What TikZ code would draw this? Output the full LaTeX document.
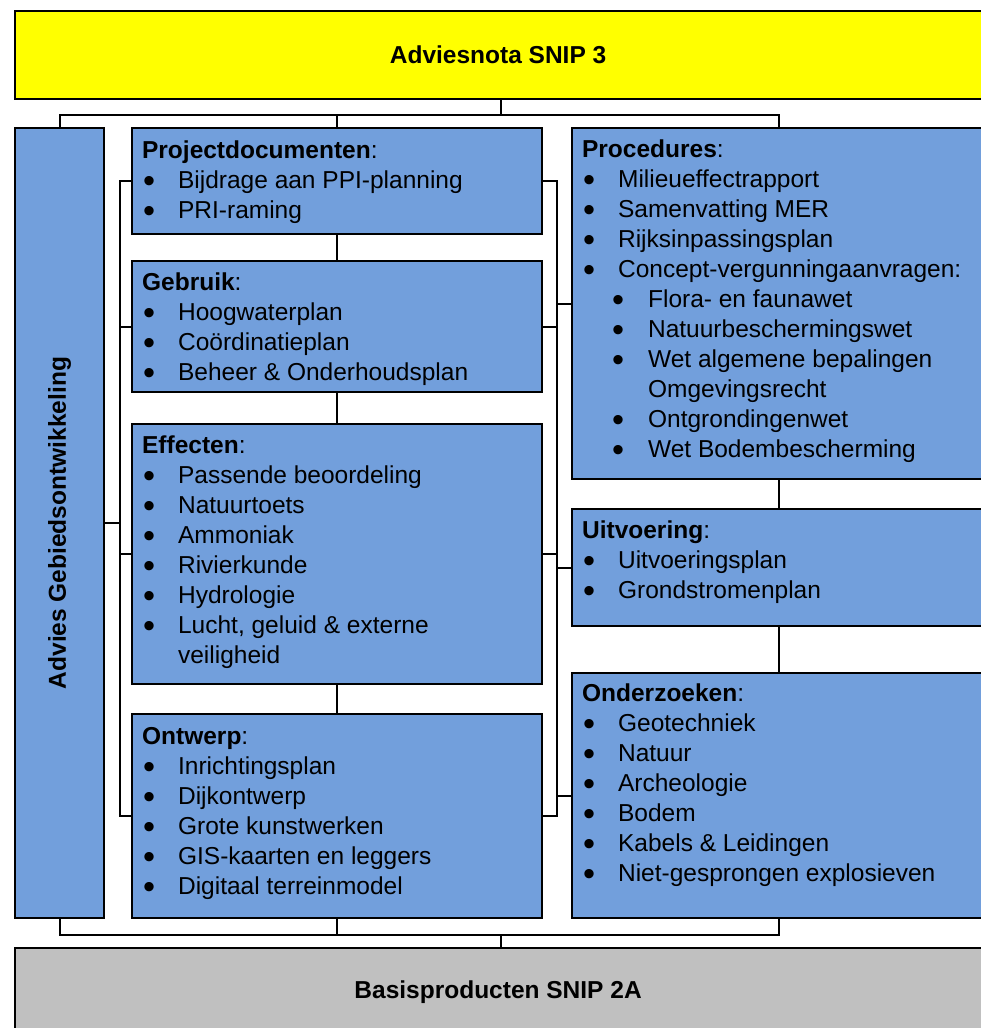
\documentclass[tikz,border=0pt]{standalone}
\usepackage{fontspec}
\setmainfont{Liberation Sans}
\usepackage{graphicx}
\definecolor{geel}{RGB}{255,255,0}
\definecolor{blokblauw}{RGB}{114,159,220}
\definecolor{grijs}{RGB}{192,192,192}
\newcommand{\bol}{\raisebox{-4.2pt}[0pt][0pt]{\scalebox{1.4}{\textbullet}}}
\newcommand{\punt}{\makebox[36pt][l]{\hspace*{1pt}\bol}}
\newcommand{\subpunt}{\hspace*{30pt}\makebox[36pt][l]{\bol}}
\tikzset{
  blok/.style={draw,line width=2.2pt,anchor=north west,inner sep=0pt,font=\fontsize{24.5}{30}\selectfont},
  lijst/.style={blok,fill=blokblauw,inner xsep=10pt},
  verbinding/.style={line width=1.8pt}
}
\begin{document}
\begin{tikzpicture}[x=1pt,y=-1pt]
\useasboundingbox (0,0) rectangle (980,1028);
\node[blok,fill=geel,minimum width=972,minimum height=88] (advies) at (14,10) {\hspace*{-6pt}\textbf{Adviesnota SNIP 3}};
\node[blok,fill=grijs,minimum width=972,minimum height=88] (basis) at (14,947) {\hspace*{-6pt}\textbf{Basisproducten SNIP 2A}};
\node[blok,fill=blokblauw,minimum width=89,minimum height=790] (links) at (14,127) {\rotatebox{90}{\textbf{Advies Gebiedsontwikkeling}}};
\node[lijst] (proj) at (131,127) {\parbox[t][106pt][t]{390pt}{\vspace*{9pt}\strut\textbf{Projectdocumenten}:\\
  \punt Bijdrage aan PPI-planning\\ \punt PRI-raming}};
\node[lijst] (gebruik) at (131,260) {\parbox[t][131pt][t]{390pt}{\vspace*{8pt}\strut\textbf{Gebruik}:\\
  \punt Hoogwaterplan\\ \punt Coördinatieplan\\ \punt Beheer \& Onderhoudsplan}};
\node[lijst] (effecten) at (131,423) {\parbox[t][260pt][t]{390pt}{\vspace*{8pt}\strut\textbf{Effecten}:\\
  \punt Passende beoordeling\\ \punt Natuurtoets\\ \punt Ammoniak\\ \punt Rivierkunde\\ \punt Hydrologie\\
  \punt Lucht, geluid \& externe\\ \hspace*{36pt}veiligheid}};
\node[lijst] (ontwerp) at (131,713) {\parbox[t][204pt][t]{390pt}{\vspace*{9pt}\strut\textbf{Ontwerp}:\\
  \punt Inrichtingsplan\\ \punt Dijkontwerp\\ \punt Grote kunstwerken\\ \punt GIS-kaarten en leggers\\ \punt Digitaal terreinmodel}};
\node[lijst] (proc) at (571,127) {\parbox[t][351pt][t]{394pt}{\vspace*{8pt}\strut\textbf{Procedures}:\\
  \punt Milieueffectrapport\\ \punt Samenvatting MER\\ \punt Rijksinpassingsplan\\ \punt Concept-vergunningaanvragen:\\
  \subpunt Flora- en faunawet\\ \subpunt Natuurbeschermingswet\\ \subpunt Wet algemene bepalingen\\ \hspace*{66pt}Omgevingsrecht\\
  \subpunt Ontgrondingenwet\\ \subpunt Wet Bodembescherming}};
\node[lijst] (uitv) at (571,508) {\parbox[t][117pt][t]{394pt}{\vspace*{8pt}\strut\textbf{Uitvoering}:\\
  \punt Uitvoeringsplan\\ \punt Grondstromenplan}};
\node[lijst] (onderz) at (571,672) {\parbox[t][245pt][t]{394pt}{\vspace*{7pt}\strut\textbf{Onderzoeken}:\\
  \punt Geotechniek\\ \punt Natuur\\ \punt Archeologie\\ \punt Bodem\\ \punt Kabels \& Leidingen\\ \punt Niet-gesprongen explosieven}};
\begin{scope}[verbinding]
\foreach \doel in {links,proj,proc}
  \draw (advies.south) -- ++(0,15) -| (\doel.north);
\foreach \bron in {links,ontwerp,onderz}
  \draw (\bron.south) -- ++(0,16) -| (basis.north);
\foreach \doel in {proj,gebruik,effecten,ontwerp}
  \draw (links.east) -- ++(15,0) |- (\doel.west);
\foreach \bron in {proj,gebruik,effecten,ontwerp}
  \foreach \doel in {proc,uitv,onderz}
    \draw (\bron.east) -- ++(14,0) |- (\doel.west);
\draw (proj) -- (gebruik) -- (effecten) -- (ontwerp);
\draw (proc) -- (uitv) -- (onderz);
\end{scope}
\end{tikzpicture}
\end{document}
